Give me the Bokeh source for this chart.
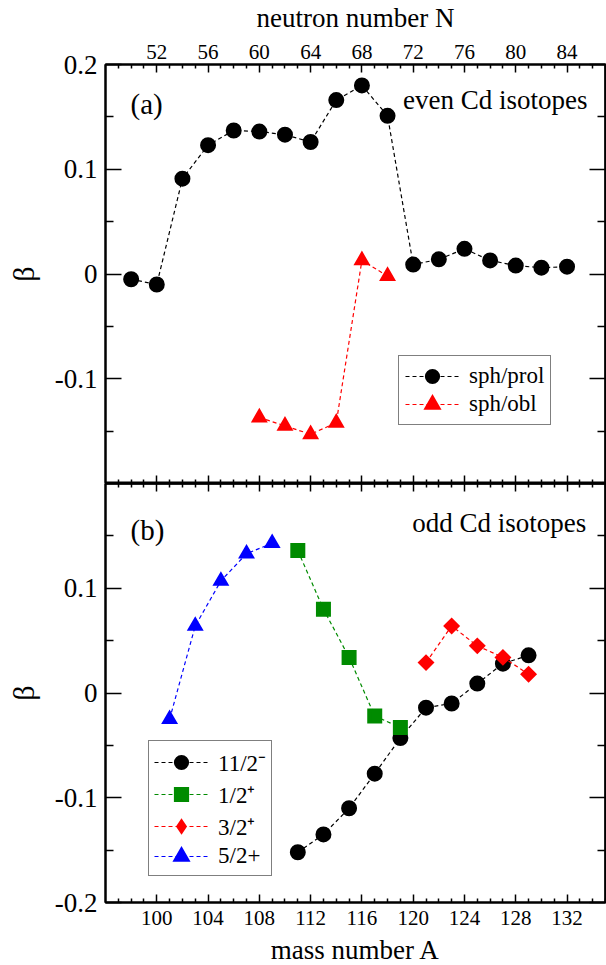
from bokeh.plotting import figure
from bokeh.models import Range1d, LinearAxis, FixedTicker, Legend, LegendItem, Label
from bokeh.layouts import column
from bokeh.embed import file_html
from bokeh.resources import INLINE
from bokeh.core.properties import value

# ---------------- data ----------------
# (a) even Cd isotopes
A_even_prol = [98, 100, 102, 104, 106, 108, 110, 112, 114, 116, 118, 120, 122, 124, 126, 128, 130, 132]
beta_even_prol = [-0.005, -0.010, 0.091, 0.123, 0.137, 0.136, 0.133, 0.126, 0.166, 0.180, 0.151,
                  0.009, 0.014, 0.024, 0.013, 0.008, 0.006, 0.007]
A_even_obl = [108, 110, 112, 114, 116, 118]
beta_even_obl = [-0.137, -0.145, -0.153, -0.142, 0.013, -0.002]

# (b) odd Cd isotopes
A_h112 = [111, 113, 115, 117, 119, 121, 123, 125, 127, 129]
beta_h112 = [-0.152, -0.135, -0.110, -0.077, -0.043, -0.014, -0.010, 0.009, 0.028, 0.036]
A_s12 = [111, 113, 115, 117, 119]
beta_s12 = [0.136, 0.080, 0.034, -0.022, -0.033]
A_d32 = [121, 123, 125, 127, 129]
beta_d32 = [0.029, 0.064, 0.045, 0.034, 0.018]
A_d52 = [101, 103, 105, 107, 109]
beta_d52 = [-0.025, 0.064, 0.107, 0.133, 0.143]

# axes / ticks
A_range = (96, 135)
N_offset = 48  # Z of Cd: N = A - 48
A_major = [100, 104, 108, 112, 116, 120, 124, 128, 132]
A_minor = [a for a in range(96, 136) if a % 4 != 0]
N_major = [52, 56, 60, 64, 68, 72, 76, 80, 84]
N_minor = [n for n in range(48, 88) if n % 4 != 0]
beta_major_top = [-0.1, 0.0, 0.1, 0.2]
beta_major_bot = [-0.2, -0.1, 0.0, 0.1]
beta_major_all = [-0.2, -0.1, 0.0, 0.1, 0.2]
beta_minor = [-0.15, -0.05, 0.05, 0.15]
beta_range = (-0.2, 0.2)

FONT = "Liberation Serif"
GREEN = "#008b00"


def fmt(t):
    return "0" if abs(t) < 1e-12 else f"{t:g}"


def base_style(ax):
    ax.axis_line_width = 2
    ax.axis_line_color = "black"
    ax.major_tick_line_width = 1.5
    ax.minor_tick_line_width = 1.5
    ax.major_tick_line_color = "black"
    ax.minor_tick_line_color = "black"
    ax.major_tick_out = 0
    ax.minor_tick_out = 0
    ax.major_label_text_font = FONT
    ax.major_label_text_color = "black"
    ax.axis_label_text_font = FONT
    ax.axis_label_text_font_style = "normal"
    ax.axis_label_text_color = "black"
    return ax


def labeled_axis(ticks, minors, tick_in, minor_in, size, **kw):
    ax = LinearAxis(**kw)
    base_style(ax)
    ax.ticker = FixedTicker(ticks=ticks, minor_ticks=minors)
    ax.major_tick_in = tick_in
    ax.minor_tick_in = minor_in
    ax.major_label_text_font_size = size
    ax.major_label_overrides = {t: fmt(t) for t in ticks}
    return ax


def add_plain_ticks(p, side, majors, minors, tick_in, minor_in, **kw):
    # tick marks without labels: two label-free axes drawn on the same edge
    for locs, length in ((minors, minor_in), (majors, tick_in)):
        ax = LinearAxis(**kw)
        base_style(ax)
        ax.ticker = FixedTicker(ticks=[], minor_ticks=locs)
        ax.minor_tick_in = length
        ax.major_label_standoff = 0
        ax.axis_label_standoff = 0
        p.add_layout(ax, side)


def base_fig(border_top, border_bottom):
    p = figure(frame_width=500, frame_height=419,
               x_range=Range1d(*A_range), y_range=Range1d(*beta_range),
               x_axis_location=None, y_axis_location=None, title_location=None,
               output_backend="svg", toolbar_location=None,
               min_border=0, min_border_left=105, min_border_right=1,
               min_border_top=border_top, min_border_bottom=border_bottom,
               background_fill_color="white", border_fill_color="white")
    p.grid.visible = False
    p.outline_line_color = "black"
    p.outline_line_width = 2
    return p


def title_strip(xr, height, text, x, y_mid):
    # strip that carries an axis title, aligned with the plot frame (pixel y-units)
    s = figure(frame_width=500, frame_height=height,
               x_range=Range1d(*xr), y_range=Range1d(0, height),
               x_axis_location=None, y_axis_location=None, title_location=None,
               output_backend="svg", toolbar_location=None,
               min_border=0, min_border_left=105, min_border_right=1,
               min_border_top=0, min_border_bottom=0,
               background_fill_color="white", border_fill_color="white")
    s.grid.visible = False
    s.outline_line_color = None
    s.text(x=[x], y=[y_mid], text=[text], text_font=value(FONT), text_font_size="27px",
           text_color="black", text_align="center", text_baseline="middle")
    return s


def make_legend(items, loc, pad):
    return Legend(items=items, location=loc, orientation="vertical",
                  label_text_font=FONT, label_text_font_size="23px", label_text_color="black",
                  glyph_width=54, glyph_height=28, label_height=28, spacing=0,
                  padding=pad, margin=0, label_standoff=10,
                  border_line_color="black", border_line_width=1.5,
                  background_fill_color="white", background_fill_alpha=1)


# ---------------- top title strip ----------------
st = title_strip(A_range, 33, "neutron number N", sum(A_range) / 2, 15.5)

# ---------------- top panel (a) ----------------
pa = base_fig(31, 0)
pa.extra_x_ranges = {"N": Range1d(A_range[0] - N_offset, A_range[1] - N_offset)}
ax_top = labeled_axis(N_major, N_minor, 8, 4, "21px", x_range_name="N")
ax_top.major_label_standoff = 6
pa.add_layout(ax_top, "above")
add_plain_ticks(pa, "below", A_major, A_minor, 8, 4)

ax_left_a = labeled_axis(beta_major_top, beta_minor, 16, 8, "27px", axis_label="β")
ax_left_a.major_label_standoff = 8
ax_left_a.axis_label_standoff = 12
ax_left_a.axis_label_text_font_size = "30px"
pa.add_layout(ax_left_a, "left")
add_plain_ticks(pa, "right", beta_major_all, beta_minor, 16, 8)

l_prol = pa.line(A_even_prol, beta_even_prol, line_color="black", line_dash="4 3", line_width=1.2)
s_prol = pa.scatter(A_even_prol, beta_even_prol, marker="circle", size=12, line_width=4,
                    fill_color="black", line_color="black")
l_obl = pa.line(A_even_obl, beta_even_obl, line_color="red", line_dash="4 3", line_width=1.2)
s_obl = pa.scatter(A_even_obl, beta_even_obl, marker="triangle", size=10, line_width=4,
                   line_join="miter", fill_color="red", line_color="red")

pa.add_layout(make_legend(
    [LegendItem(label="sph/prol", renderers=[l_prol, s_prol]),
     LegendItem(label="sph/obl", renderers=[l_obl, s_obl])],
    (293, 58), 6))

pa.add_layout(Label(x=97.95, y=0.162, text="(a)", text_font=FONT, text_font_size="29px",
                    text_color="black", text_align="left", text_baseline="alphabetic"))
pa.add_layout(Label(x=133.6, y=0.166, text="even Cd isotopes", text_font=FONT,
                    text_font_size="27px", text_color="black",
                    text_align="right", text_baseline="alphabetic"))

# ---------------- bottom panel (b) ----------------
pb = base_fig(0, 32)
add_plain_ticks(pb, "above", A_major, A_minor, 8, 4)
ax_bot_b = labeled_axis(A_major, A_minor, 8, 4, "21px")
ax_bot_b.major_label_standoff = 8
pb.add_layout(ax_bot_b, "below")

ax_left_b = labeled_axis(beta_major_bot, beta_minor, 16, 8, "27px", axis_label="β")
ax_left_b.major_label_standoff = 8
ax_left_b.axis_label_standoff = 12
ax_left_b.axis_label_text_font_size = "30px"
pb.add_layout(ax_left_b, "left")
add_plain_ticks(pb, "right", beta_major_all, beta_minor, 16, 8)

l_h = pb.line(A_h112, beta_h112, line_color="black", line_dash="4 3", line_width=1.2)
s_h = pb.scatter(A_h112, beta_h112, marker="circle", size=12, line_width=4,
                 fill_color="black", line_color="black")
l_s = pb.line(A_s12, beta_s12, line_color=GREEN, line_dash="4 3", line_width=1.2)
s_s = pb.scatter(A_s12, beta_s12, marker="square", size=11, line_width=4, line_join="miter",
                 fill_color=GREEN, line_color=GREEN)
l_d3 = pb.line(A_d32, beta_d32, line_color="red", line_dash="4 3", line_width=1.2)
# legend symbol for 3/2+ (covered by the 45-degree squares drawn on top of it)
s_d3_leg = pb.scatter(A_d32, beta_d32, marker="diamond", size=9, line_width=3, line_join="miter",
                      fill_color="red", line_color="red")
pb.scatter(A_d32, beta_d32, marker="square", size=8, angle=0.785398, line_width=4,
           line_join="miter", fill_color="red", line_color="red")
l_d5 = pb.line(A_d52, beta_d52, line_color="blue", line_dash="4 3", line_width=1.2)
s_d5 = pb.scatter(A_d52, beta_d52, marker="triangle", size=10, line_width=4, line_join="miter",
                  fill_color="blue", line_color="blue")

pb.add_layout(make_legend(
    [LegendItem(label="11/2\u207b", renderers=[l_h, s_h]),
     LegendItem(label="1/2\u207a", renderers=[l_s, s_s]),
     LegendItem(label="3/2\u207a", renderers=[l_d3, s_d3_leg]),
     LegendItem(label="5/2+", renderers=[l_d5, s_d5])],
    (43, 26), 5))

pb.add_layout(Label(x=97.95, y=0.156, text="(b)", text_font=FONT, text_font_size="29px",
                    text_color="black", text_align="left", text_baseline="alphabetic"))
pb.add_layout(Label(x=133.5, y=0.162, text="odd Cd isotopes", text_font=FONT,
                    text_font_size="27px", text_color="black",
                    text_align="right", text_baseline="alphabetic"))

# ---------------- bottom title strip ----------------
sb = title_strip(A_range, 31, "mass number A", sum(A_range) / 2, 15.5)

layout = column(st, pa, pb, sb, spacing=0)
open("out.html", "w").write(file_html(layout, INLINE))
